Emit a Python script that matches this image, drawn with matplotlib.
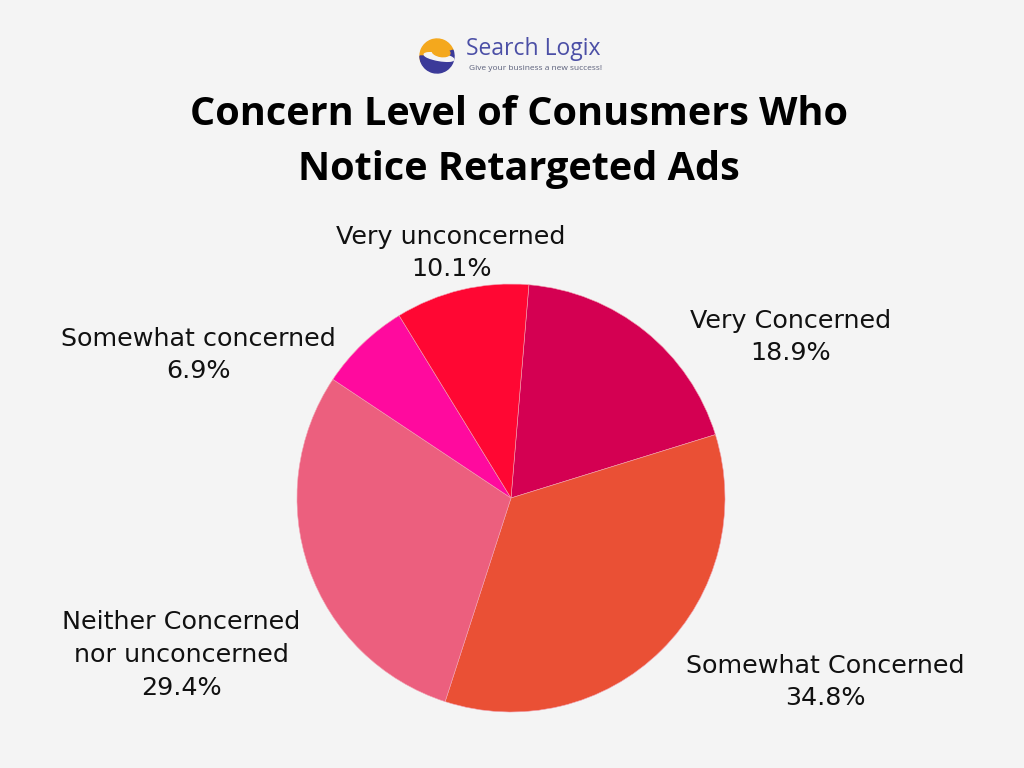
import matplotlib
matplotlib.use("Agg")
import matplotlib.pyplot as plt
from matplotlib.patches import Wedge, Ellipse

# data
labels = ["Very Concerned", "Somewhat Concerned", "Neither Concerned\nnor unconcerned",
          "Somewhat concerned", "Very unconcerned"]
values = [18.9, 34.8, 29.4, 6.9, 10.1]
colors = ["#D40052", "#EA5035", "#EC5F7E", "#FF0A9E", "#FF0733"]
title = "Concern Level of Conusmers Who\nNotice Retargeted Ads"

BG = "#F4F4F4"
fig = plt.figure(figsize=(10.24, 7.68), dpi=100, facecolor=BG)
ax = fig.add_axes([0, 0, 1, 1])
ax.set_xlim(0, 1024); ax.set_ylim(0, 768)
ax.set_aspect("equal"); ax.axis("off")
ax.set_facecolor(BG)

H = 768
ax.pie(values, colors=colors, startangle=85.2, counterclock=False,
       center=(511, H - 498), radius=214,
       wedgeprops={"linewidth": 0.4, "edgecolor": "#F2A0B0"})
ax.set_xlim(0, 1024); ax.set_ylim(0, 768)

# labels with percentages
label_pos = [(791, 337), (825, 682), (181, 655), (198, 355), (451, 253)]
for lab, v, (x, y) in zip(labels, values, label_pos):
    ax.text(x, H - y, f"{lab}\n{v}%", ha="center", va="center",
            fontsize=18.3, family="DejaVu Sans", color="#111111", linespacing=1.45)

ax.text(519, H - 142, title, ha="center", va="center", fontsize=28.5,
        family="Open Sans", weight="bold", color="#000000", linespacing=1.55)

# logo
cx, cy = 437, H - 56
ax.add_patch(Wedge((cx, cy), 17, 20, 200, color="#F4A81D", zorder=3))
ax.add_patch(Wedge((cx, cy), 17, 180, 380, color="#3B3A99", zorder=3))
ax.add_patch(Ellipse((cx + 2, cy - 1), 30, 7, angle=-10, color=BG, zorder=4))
ax.add_patch(Ellipse((cx + 4, cy + 4), 18, 9, angle=-10, color="#F4A81D", zorder=5))
ax.text(466, H - 49, "Search Logix", ha="left", va="center", fontsize=16.5,
        family="Open Sans", color="#4B4FA6")
ax.text(469, H - 69, "Give your business a new success!", ha="left", va="center",
        fontsize=6, family="Open Sans", color="#5A5F7A")

fig.savefig("out.png", dpi=100, facecolor=BG)
